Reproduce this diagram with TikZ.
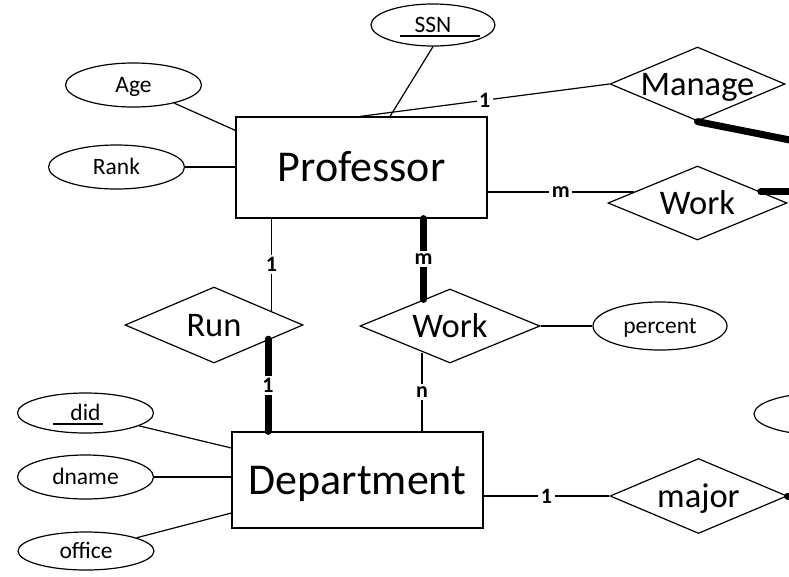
\documentclass[tikz,border=0pt]{standalone}
\usepackage{fontspec}
\setmainfont{Carlito}
\usetikzlibrary{shapes.geometric}
\begin{document}
\begin{tikzpicture}[x=1pt,y=-1pt,
  line width=1.2pt,
  entity/.style={draw, rectangle, inner sep=0pt, text height=28.3pt, text depth=0pt,
    font=\fontsize{44}{44}\selectfont},
  relation/.style={draw, diamond, inner sep=0pt, minimum width=178pt, minimum height=74pt},
  rtext/.style={inner sep=0pt, text height=22.2pt, text depth=0pt,
    font=\fontsize{34.5}{34.5}\selectfont},
  attr/.style={draw, ellipse, inner sep=0pt, minimum width=136pt, minimum height=44pt,
    text height=15.1pt, text depth=0pt, font=\fontsize{23.5}{23.5}\selectfont},
  card/.style={fill=white, inner sep=2.5pt, font=\bfseries\fontsize{22}{22}\selectfont},
  heavy/.style={line width=7pt, line cap=round},
]
\useasboundingbox (0,0) rectangle (789,576);
\fill[white] (0,0) rectangle (789,576);
\clip (0,0) rectangle (789,576);

% entities
\node[entity, minimum width=251pt, minimum height=101pt] (prof) at (361.5,167.5) {Professor};
\node[entity, minimum width=251pt, minimum height=96pt] (dept) at (357.5,480) {Department};

% attributes
\node[attr, minimum width=124pt, minimum height=42pt] (ssn) at (433,25) {SSN};
\node[attr] (age) at (133.5,85) {Age};
\node[attr] (rank) at (116.5,167) {Rank};
\node[attr, minimum height=40pt] (did) at (85.5,413) {did};
\node[attr] (dname) at (85.5,477) {dname};
\node[attr, minimum height=38pt] (office) at (86,551) {office};
\node[attr, minimum width=134pt, minimum height=48pt] (pct) at (660,326) {percent};
\node[attr, minimum height=42pt] (extra) at (822,414) {};

% key underlines
\draw ([xshift=-33pt,yshift=-11pt]ssn.center) -- ++(80,0);
\draw ([xshift=-32.5pt,yshift=-11pt]did.center) -- ++(50,0);

% relationships
\node[relation, minimum width=175pt, label={[rtext]center:Manage}] (manage) at (697.5,84) {};
\node[relation, minimum width=179pt, label={[rtext]center:Work}] (workr) at (697.5,203) {};
\node[relation, minimum height=76pt, label={[rtext]center:Run}] (run) at (214,325) {};
\node[relation, minimum width=180pt, label={[rtext]center:Work}] (workm) at (450,326) {};
\node[relation, minimum width=177pt, minimum height=75pt, label={[rtext]center:major}] (major) at (698.5,496) {};

% helper points
\coordinate (mgo) at (850,152);
\coordinate (edge) at (850,0);
\coordinate (pe) at ([yshift=-24.5pt]prof.east);
\coordinate (p1) at ([xshift=-90pt]prof.south);
\coordinate (d1) at ([xshift=-89.5pt]dept.north);
\coordinate (p2) at ([xshift=62pt]prof.south);
\coordinate (d2) at ([xshift=64.5pt]dept.north);

% Professor attributes
\draw (age) -- ([yshift=-14pt]prof.north west);
\draw (rank) -- (rank -| prof.west);
\draw (ssn.south) -- ([xshift=28.5pt]prof.north);

% Professor relationships
\draw ([xshift=-1.5pt]prof.north) -- node[card]{1} (manage.west);
\draw[heavy] (manage.south) -- (mgo);
\draw (pe) -- node[card]{m} (pe -| workr.170);
\draw[heavy] (workr.10) -- (workr.10 -| edge);
\draw (p1) -- node[card]{1} (p1 |- run.14);
\draw[heavy] (p2) -- node[card]{m} (p2 |- workm.135);

% Department relationships
\draw[heavy] (d1 |- run.-14) -- node[card]{1} (d1);
\draw (d2 |- workm.-135) -- node[card]{n} (d2);
\draw (workm.east) -- (pct.west);
\draw (dept.east |- major) -- node[card]{1} (major.west);
\draw[heavy] (major.east) -- (major.east -| edge);

% Department attributes
\draw (did) -- ([yshift=32pt]dept.west);
\draw (dname) -- (dname -| dept.west);
\draw (office) -- ([yshift=-33pt]dept.west);
\end{tikzpicture}
\end{document}
